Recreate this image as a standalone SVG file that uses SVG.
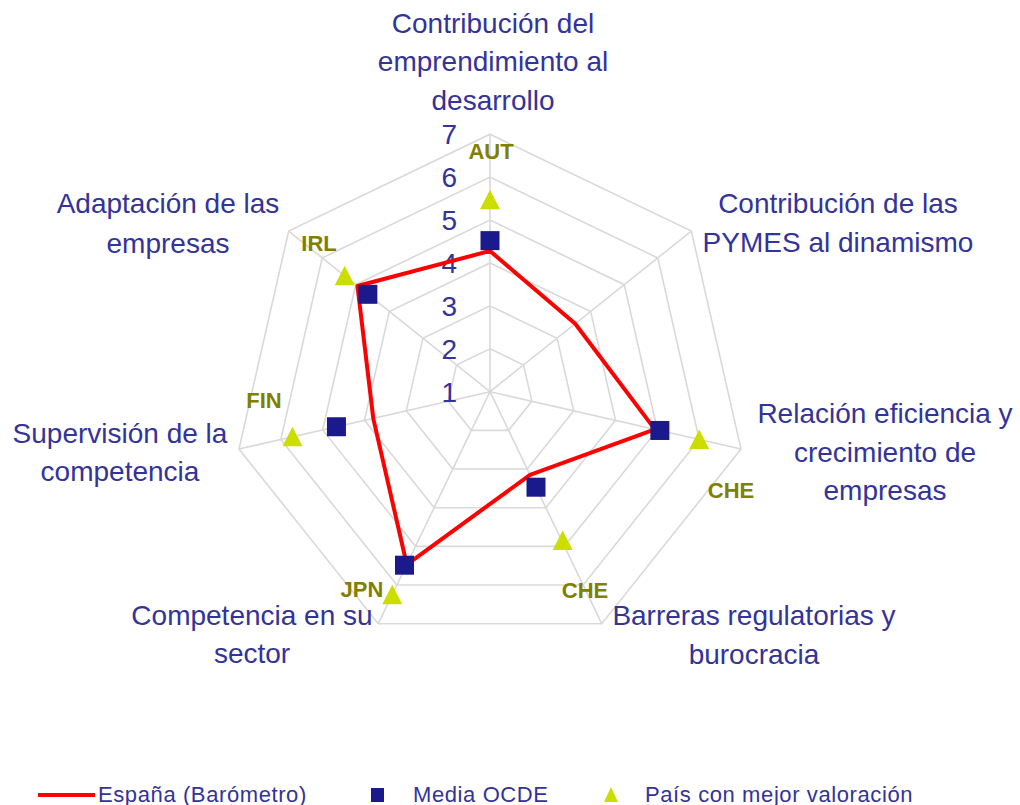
<svg xmlns="http://www.w3.org/2000/svg" width="1020" height="805" viewBox="0 0 1020 805">
<style>
.grid{fill:none;stroke:#d9d9d9;stroke-width:1.6}
.lbl{font-family:"Liberation Sans",Arial,sans-serif;font-size:28px;fill:#333399;text-anchor:middle}
.tick{font-family:"Liberation Sans",Arial,sans-serif;font-size:28px;fill:#333399;text-anchor:end}
.cty{font-family:"Liberation Sans",Arial,sans-serif;font-size:22px;font-weight:bold;fill:#808000;text-anchor:middle}
.leg{font-family:"Liberation Sans",Arial,sans-serif;font-size:22px;fill:#333399;letter-spacing:0.6px}
.sq{fill:#1a1a8c}
.tri{fill:#ccdd00}
</style>
<defs>
<rect id="sqm" x="-9.5" y="-9.5" width="19" height="19"/>
<path id="trm" d="M0,-10 L10,9.5 L-10,9.5 Z"/>
</defs>
<rect width="1020" height="805" fill="#ffffff"/>
<g id="grid">
<polygon class="grid" points="490,348.78 523.55,364.94 531.84,401.25 508.62,430.37 471.38,430.37 448.16,401.25 456.45,364.94"/>
<polygon class="grid" points="490,305.87 557.11,338.18 573.68,410.80 527.24,469.03 452.76,469.03 406.32,410.80 422.89,338.18"/>
<polygon class="grid" points="490,262.95 590.66,311.43 615.52,420.35 545.86,507.70 434.14,507.70 364.48,420.35 389.34,311.43"/>
<polygon class="grid" points="490,220.03 624.21,284.67 657.36,429.90 564.48,546.37 415.52,546.37 322.64,429.90 355.79,284.67"/>
<polygon class="grid" points="490,177.12 657.77,257.91 699.20,439.45 583.10,585.03 396.90,585.03 280.80,439.45 322.23,257.91"/>
<polygon class="grid" points="490,134.2 691.32,231.15 741.04,449.0 601.72,623.70 378.28,623.70 238.96,449.0 288.68,231.15"/>
<path class="grid" d="M490,391.7 L490,134.2 M490,391.7 L691.32,231.15 M490,391.7 L741.04,449.0 M490,391.7 L601.72,623.70 M490,391.7 L378.28,623.70 M490,391.7 L238.96,449.0 M490,391.7 L288.68,231.15"/>
</g>
<g id="ticks">
<text class="tick" x="457" y="402">1</text>
<text class="tick" x="457" y="359">2</text>
<text class="tick" x="457" y="316">3</text>
<text class="tick" x="457" y="273">4</text>
<text class="tick" x="457" y="230">5</text>
<text class="tick" x="457" y="187">6</text>
<text class="tick" x="457" y="144">7</text>
</g>
<g id="connectors">
<polygon id="espana" points="490,250.93 575.23,323.73 654.85,429.33 530.03,474.83 406.76,564.54 373.26,418.34 357.46,286.01" fill="none" stroke="#ff0000" stroke-width="4" stroke-linejoin="round"/>
</g>
<g id="ocde">
<use href="#sqm" class="sq" x="490" y="240.63"/>
<use href="#sqm" class="sq" x="659.87" y="430.47"/>
<use href="#sqm" class="sq" x="535.99" y="487.2"/>
<use href="#sqm" class="sq" x="404.5" y="565.2"/>
<use href="#sqm" class="sq" x="336.44" y="426.75"/>
<use href="#sqm" class="sq" x="367.86" y="294.3"/>
</g>
<g id="mejor">
<use href="#trm" class="tri" x="490" y="199.86"/>
<use href="#trm" class="tri" x="699.21" y="439.45"/>
<use href="#trm" class="tri" x="562.69" y="540.57"/>
<use href="#trm" class="tri" x="392.24" y="594.7"/>
<use href="#trm" class="tri" x="292.51" y="436.78"/>
<use href="#trm" class="tri" x="344.71" y="275.84"/>
</g>
<g id="paises">
<text class="cty" x="491" y="159">AUT</text>
<text class="cty" x="319" y="251">IRL</text>
<text class="cty" x="264" y="408">FIN</text>
<text class="cty" x="731" y="498">CHE</text>
<text class="cty" x="585" y="598">CHE</text>
<text class="cty" x="362" y="597">JPN</text>
</g>
<g id="eje0"><text class="lbl" x="493" y="33">Contribución del</text><text class="lbl" x="493" y="71">emprendimiento al</text><text class="lbl" x="493" y="110">desarrollo</text></g>
<g id="eje1"><text class="lbl" x="838" y="213">Contribución de las</text><text class="lbl" x="838" y="252">PYMES al dinamismo</text></g>
<g id="eje2"><text class="lbl" x="885" y="423">Relación eficiencia y</text><text class="lbl" x="885" y="462">crecimiento de</text><text class="lbl" x="885" y="500">empresas</text></g>
<g id="eje3"><text class="lbl" x="754" y="625">Barreras regulatorias y</text><text class="lbl" x="754" y="664">burocracia</text></g>
<g id="eje4"><text class="lbl" x="252" y="625">Competencia en su</text><text class="lbl" x="252" y="663">sector</text></g>
<g id="eje5"><text class="lbl" x="120" y="443">Supervisión de la</text><text class="lbl" x="120" y="481">competencia</text></g>
<g id="eje6"><text class="lbl" x="168" y="213">Adaptación de las</text><text class="lbl" x="168" y="253">empresas</text></g>
<g id="legend">
<line x1="38" y1="795" x2="95" y2="795" stroke="#ff0000" stroke-width="4"/>
<text class="leg" x="98" y="802">España (Barómetro)</text>
<rect class="sq" x="371" y="788" width="13" height="14"/>
<text class="leg" x="413" y="802">Media OCDE</text>
<path class="tri" d="M611,787 L618,802 L604,802 Z"/>
<text class="leg" x="645" y="802">País con mejor valoración</text>
</g>
</svg>
